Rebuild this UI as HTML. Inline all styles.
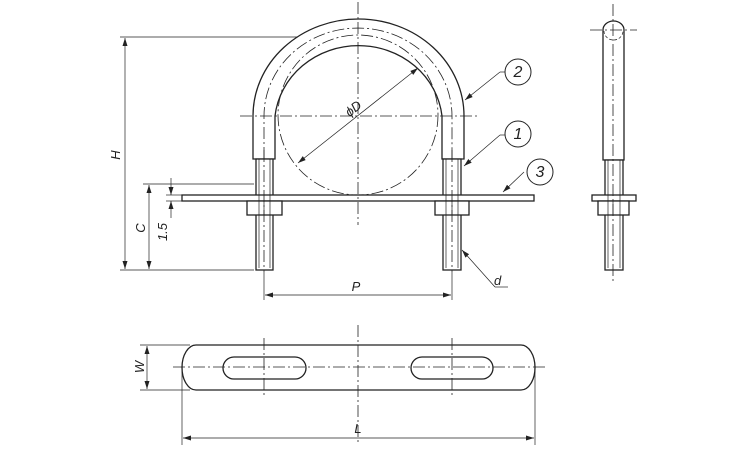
<!DOCTYPE html>
<html><head><style>body{margin:0;background:#fff}svg{display:block}</style></head><body>
<svg width="750" height="450" viewBox="0 0 750 450" xmlns="http://www.w3.org/2000/svg" font-family="Liberation Sans, sans-serif" font-style="italic">
<defs><marker id="a" markerWidth="8" markerHeight="6" refX="8" refY="3" orient="auto-start-reverse" markerUnits="userSpaceOnUse"><path d="M0,0.5 L8,3 L0,5.5 z" fill="#222"/></marker></defs>
<g stroke="#222" fill="none">
<!-- U bolt -->
<g stroke-width="1.3" fill="#fff">
<path d="M253,159 L253,116 A105.5,97 0 0 1 464,116 L464,159 L442,159 L442,116 A84,79 0 0 0 275,116 L275,159 Z"/>
<rect x="256" y="159" width="17" height="111"/><rect x="443" y="159" width="18" height="111"/>
<rect x="182" y="195" width="352" height="6"/>
<rect x="247" y="201" width="35" height="14"/><rect x="435" y="201" width="34" height="14"/>
</g>
<g stroke-width="0.7">
<line x1="259" y1="159" x2="259" y2="268"/><line x1="270" y1="159" x2="270" y2="268"/>
<line x1="446" y1="159" x2="446" y2="268"/><line x1="458" y1="159" x2="458" y2="268"/>
<line x1="264" y1="201" x2="264" y2="215"/><line x1="452" y1="201" x2="452" y2="215"/>
</g>
<!-- side view -->
<g stroke-width="1.3" fill="#fff">
<path d="M603,160 L603,30 A10.5,9 0 0 1 624,30 L624,160 Z"/>
<rect x="605" y="160" width="18" height="110"/>
<rect x="592" y="195" width="44" height="6"/><rect x="598" y="201" width="31" height="14"/>
</g>
<g stroke-width="0.7"><line x1="608" y1="160" x2="608" y2="268"/><line x1="620" y1="160" x2="620" y2="268"/><line x1="613" y1="201" x2="613" y2="215"/></g>
<!-- centerlines -->
<g stroke-width="0.8" stroke-dasharray="12,3,2,3">
<line x1="358" y1="2" x2="358" y2="225"/><line x1="240" y1="116" x2="478" y2="116"/>
<line x1="264" y1="150" x2="264" y2="272"/><line x1="452" y1="150" x2="452" y2="272"/>
<path d="M264,159 L264,116 A94,88 0 0 1 452,116 L452,159"/>
<circle cx="358" cy="115" r="80"/>
<line x1="173" y1="367" x2="545" y2="367"/><line x1="358" y1="325" x2="358" y2="442"/>
<line x1="264" y1="338" x2="264" y2="395"/><line x1="452" y1="338" x2="452" y2="395"/>
<line x1="613" y1="4" x2="613" y2="282"/><line x1="590" y1="30" x2="637" y2="30"/>
</g>
<path d="M604,31 A9.5,9 0 0 0 623,31" stroke-width="0.7" stroke-dasharray="3,2"/>
<!-- dims -->
<g stroke-width="0.7">
<line x1="120" y1="37" x2="298" y2="37"/><line x1="120" y1="270" x2="254" y2="270"/>
<line x1="125" y1="38" x2="125" y2="269" marker-start="url(#a)" marker-end="url(#a)"/>
<line x1="143" y1="184" x2="254" y2="184"/>
<line x1="149" y1="185" x2="149" y2="269" marker-start="url(#a)" marker-end="url(#a)"/>
<line x1="171" y1="178" x2="171" y2="195" marker-end="url(#a)"/><line x1="171" y1="218" x2="171" y2="201" marker-end="url(#a)"/>
<line x1="166" y1="195" x2="182" y2="195"/><line x1="166" y1="201" x2="182" y2="201"/>
<line x1="298" y1="163" x2="418" y2="68" marker-start="url(#a)" marker-end="url(#a)"/>
<line x1="264" y1="272" x2="264" y2="300"/><line x1="452" y1="272" x2="452" y2="300"/>
<line x1="265" y1="295" x2="451" y2="295" marker-start="url(#a)" marker-end="url(#a)"/>
<line x1="495" y1="287" x2="462" y2="250" marker-end="url(#a)"/><line x1="495" y1="287" x2="508" y2="287"/>
<line x1="500" y1="72" x2="465" y2="100" marker-end="url(#a)"/><line x1="500" y1="72" x2="505" y2="72"/>
<line x1="500" y1="135" x2="464" y2="166" marker-end="url(#a)"/><line x1="500" y1="135" x2="505" y2="135"/>
<line x1="524" y1="172" x2="503" y2="192" marker-end="url(#a)"/>
<line x1="140" y1="345" x2="190" y2="345"/><line x1="140" y1="390" x2="190" y2="390"/>
<line x1="147" y1="346" x2="147" y2="389" marker-start="url(#a)" marker-end="url(#a)"/>
<line x1="182" y1="370" x2="182" y2="445"/><line x1="535" y1="370" x2="535" y2="445"/>
<line x1="183" y1="438" x2="534" y2="438" marker-start="url(#a)" marker-end="url(#a)"/>
</g>
<g stroke-width="1">
<circle cx="518" cy="72" r="13"/><circle cx="518" cy="134" r="13"/><circle cx="540" cy="172" r="13"/>
</g>
<!-- bottom plate -->
<g stroke-width="1.3">
<path d="M196,345 L521,345 A14,22.5 0 0 1 521,390 L196,390 A14,22.5 0 0 1 196,345 Z"/>
<rect x="223" y="357" width="83" height="22" rx="11"/><rect x="411" y="357" width="82" height="22" rx="11"/>
</g>
</g>
<g fill="#222" font-size="13">
<text x="120" y="155" transform="rotate(-90 120 155)" text-anchor="middle">H</text>
<text x="145" y="228" transform="rotate(-90 145 228)" text-anchor="middle">C</text>
<text x="167" y="232" transform="rotate(-90 167 232)" text-anchor="middle">1.5</text>
<text x="356" y="112" transform="rotate(-38 356 112)" text-anchor="middle">ϕD</text>
<text x="356" y="291" text-anchor="middle">P</text>
<text x="494" y="285">d</text>
<text x="144" y="367" transform="rotate(-90 144 367)" text-anchor="middle">W</text>
<text x="358" y="433" text-anchor="middle">L</text>
<text x="518" y="77" text-anchor="middle" font-size="16">2</text>
<text x="518" y="139" text-anchor="middle" font-size="16">1</text>
<text x="540" y="177" text-anchor="middle" font-size="16">3</text>
</g>
</svg>
</body></html>
